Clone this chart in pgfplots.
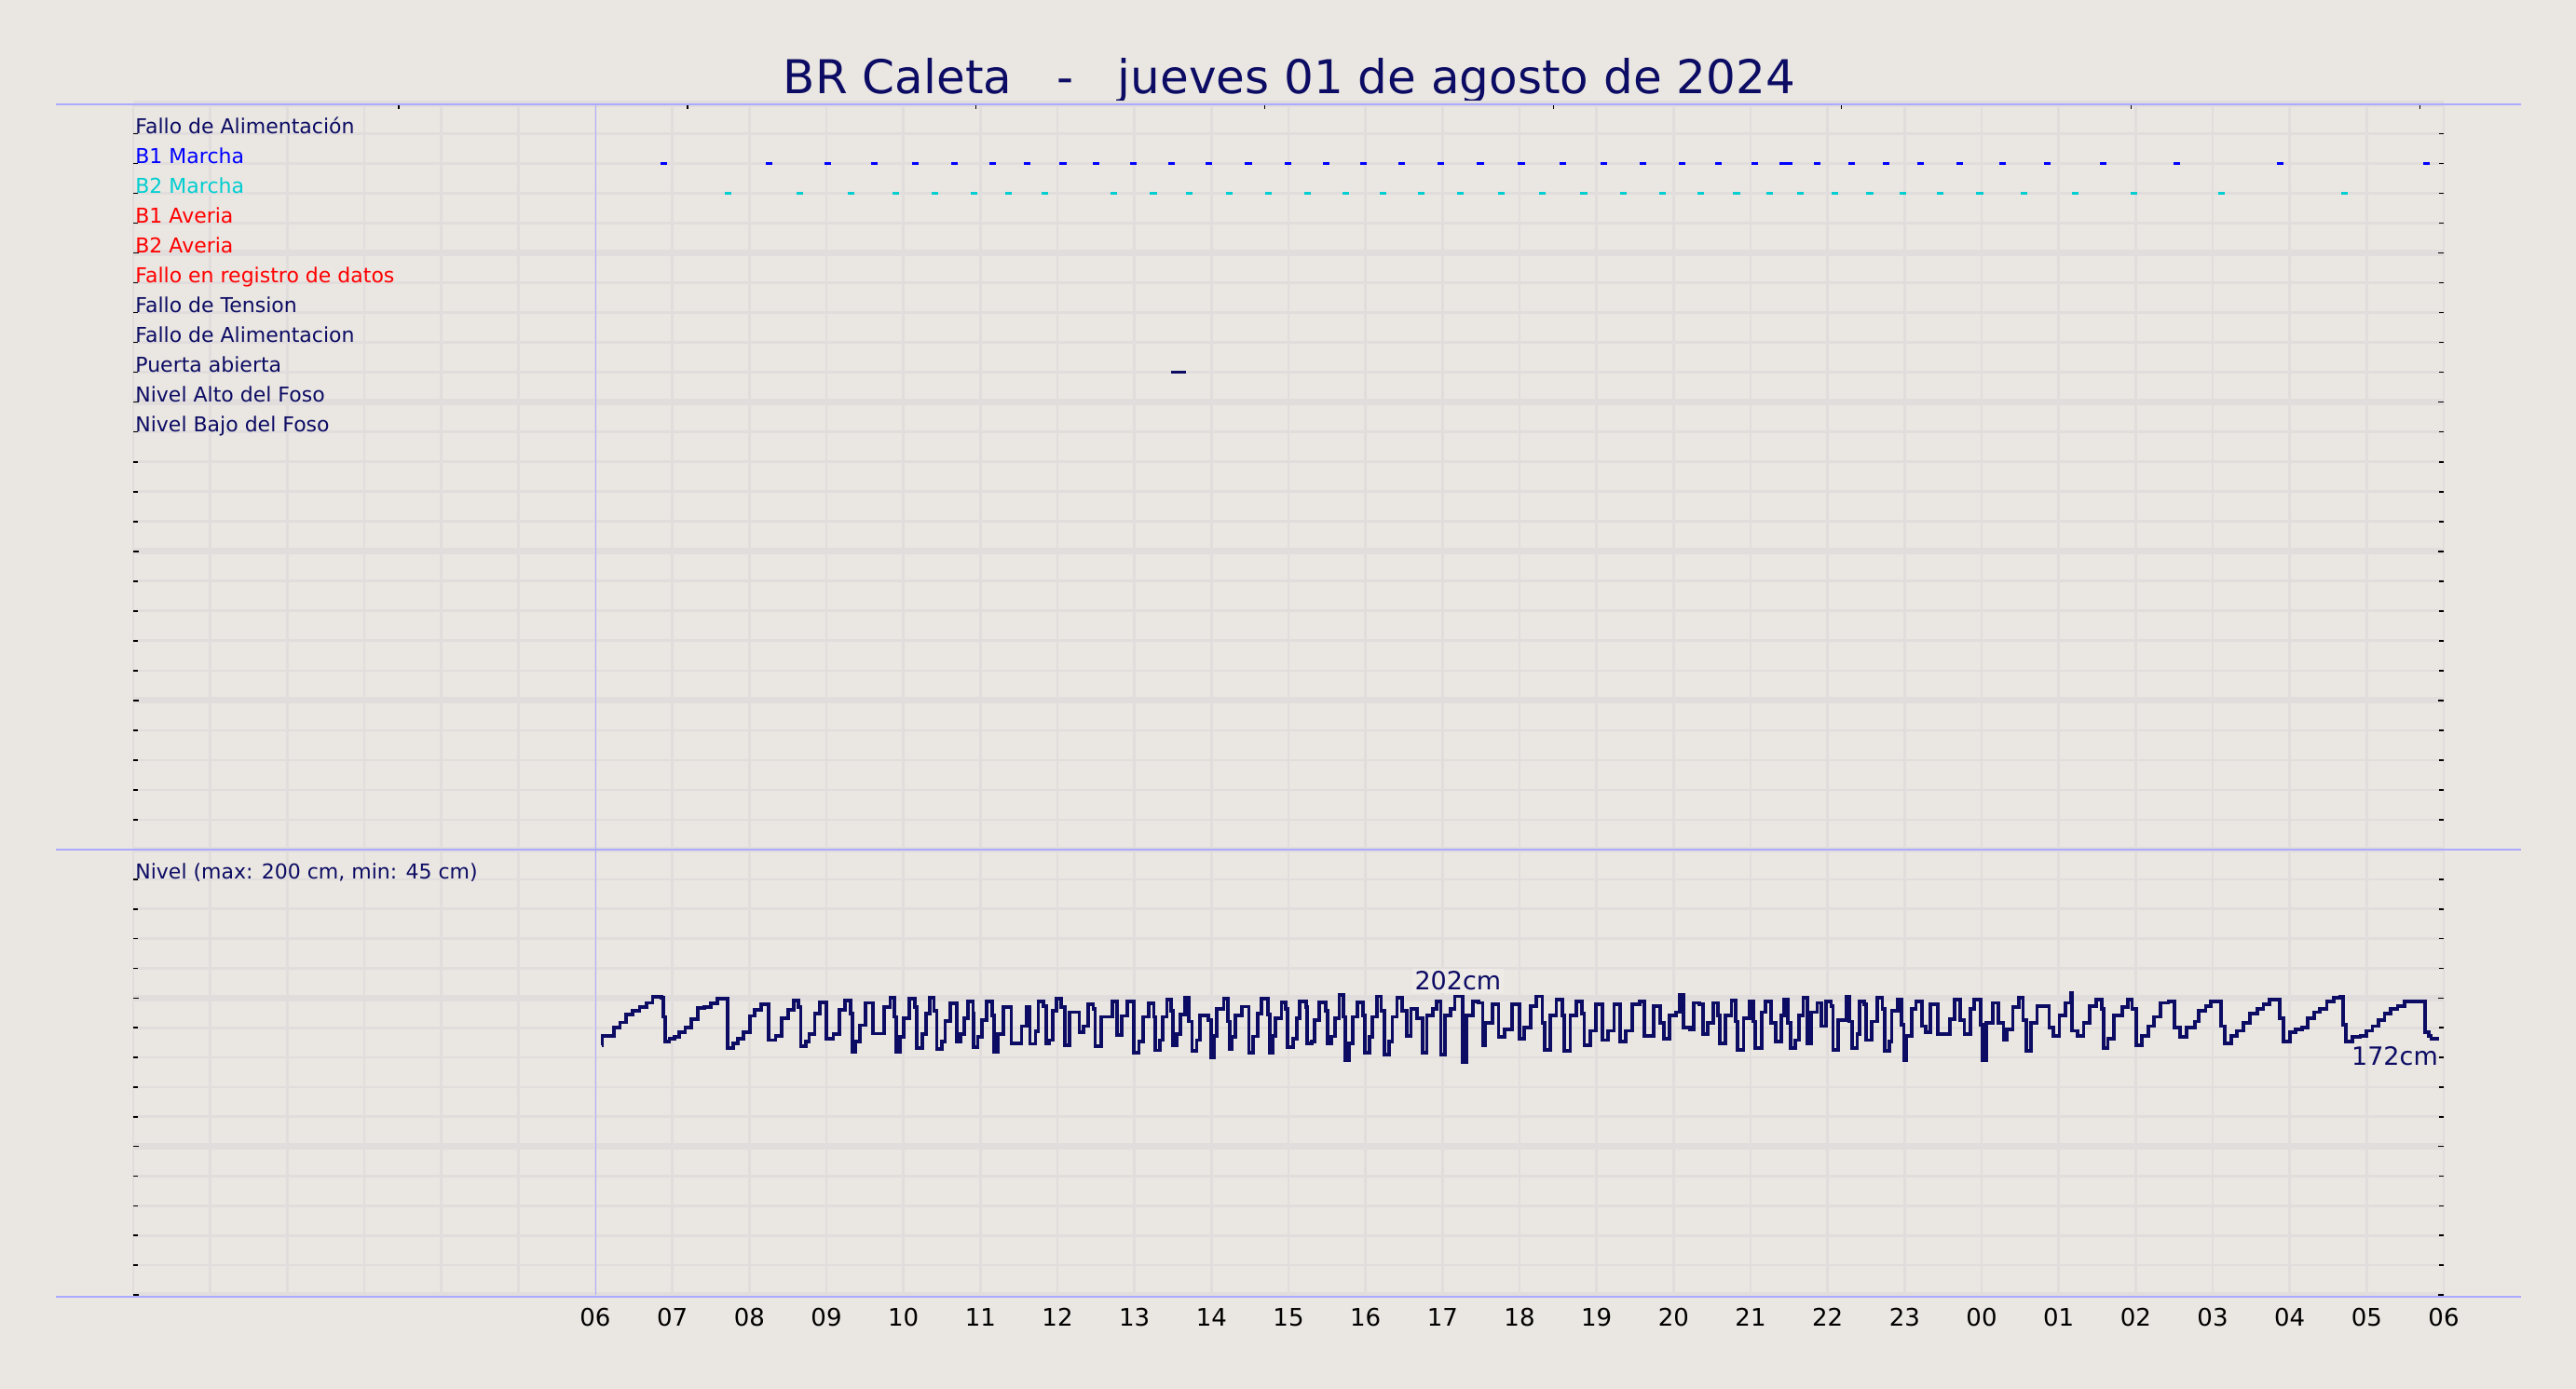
\documentclass[border=0pt]{standalone}
\usepackage{fontspec}
\setmainfont{DejaVu Sans}
\usepackage{pgfplots}
\usepackage{pgfplotstable}
\pgfplotsset{compat=1.18}

\definecolor{bg}{RGB}{234,230,225}
\definecolor{gridc}{RGB}{225,221,220}
\definecolor{lav}{RGB}{170,170,255}
\definecolor{navyc}{RGB}{12,12,100}
\definecolor{b2c}{RGB}{0,206,209}
\definecolor{boxc}{RGB}{238,234,230}

% level of the pit (cm), step data, hour of day (24 = 00 next day)
\pgfplotstableread{
h v
6.080 168.4
6.090 174.3
6.238 180.0
6.320 183.6
6.403 188.8
6.486 191.6
6.574 194.1
6.661 196.8
6.744 201.0
6.858 200.0
6.884 187.4
6.910 170.5
6.961 172.6
7.028 173.7
7.090 176.8
7.168 180.0
7.245 185.7
7.333 193.1
7.416 193.7
7.504 196.2
7.587 199.4
7.721 166.3
7.788 169.5
7.855 172.6
7.928 176.8
8.005 188.0
8.072 192.0
8.155 195.8
8.253 171.6
8.341 174.7
8.419 186.3
8.501 192.0
8.579 198.5
8.641 193.7
8.667 167.4
8.734 170.5
8.775 175.8
8.848 189.5
8.915 197.3
9.003 172.6
9.090 175.8
9.173 192.0
9.245 198.5
9.313 189.5
9.338 163.6
9.375 170.5
9.432 181.7
9.504 196.8
9.602 176.0
9.752 193.7
9.829 200.0
9.881 187.4
9.907 163.6
9.959 173.9
10.000 186.3
10.072 199.4
10.150 193.7
10.171 166.3
10.243 175.8
10.295 189.5
10.346 200.0
10.398 191.6
10.434 165.7
10.501 170.5
10.543 184.6
10.605 196.4
10.698 170.5
10.744 175.8
10.786 186.3
10.837 197.9
10.904 189.5
10.915 166.9
10.966 173.7
11.018 185.3
11.085 197.9
11.152 188.4
11.173 163.6
11.225 175.8
11.302 193.7
11.400 169.5
11.535 181.1
11.597 194.3
11.643 169.1
11.716 177.5
11.752 197.9
11.814 194.7
11.855 169.5
11.897 171.6
11.938 191.6
11.990 199.6
12.052 193.7
12.093 168.4
12.155 190.5
12.284 176.8
12.336 181.1
12.403 195.8
12.465 192.6
12.491 167.4
12.568 187.4
12.713 197.9
12.775 175.0
12.837 188.0
12.910 197.9
12.992 163.2
13.059 170.5
13.111 187.4
13.189 196.4
13.251 187.4
13.266 164.8
13.333 171.6
13.369 187.4
13.421 198.9
13.473 191.6
13.499 168.4
13.550 175.8
13.592 188.8
13.654 200.0
13.705 184.2
13.747 164.2
13.809 171.6
13.850 188.4
13.964 185.3
13.995 160.0
14.031 174.7
14.072 192.6
14.160 199.4
14.212 184.2
14.238 165.7
14.264 173.7
14.315 188.4
14.393 194.3
14.486 163.2
14.538 174.1
14.600 189.5
14.652 199.4
14.729 188.8
14.755 163.2
14.796 174.7
14.833 186.3
14.910 197.3
14.962 192.6
14.988 166.9
15.065 172.6
15.107 186.3
15.143 197.9
15.231 193.7
15.246 169.5
15.298 170.5
15.334 185.3
15.401 197.3
15.479 191.6
15.505 169.5
15.556 174.1
15.608 186.3
15.660 202.1
15.712 187.4
15.737 157.9
15.789 169.5
15.830 187.4
15.893 197.3
15.970 188.4
15.996 163.2
16.048 173.7
16.089 187.4
16.151 201.1
16.203 191.6
16.244 162.1
16.306 170.5
16.348 187.4
16.410 200.0
16.472 191.6
16.539 174.7
16.591 192.6
16.668 186.3
16.746 163.2
16.797 188.4
16.875 192.6
16.927 197.9
16.978 162.1
17.030 188.4
17.108 192.6
17.159 201.1
17.263 156.8
17.314 188.4
17.392 197.9
17.470 196.8
17.521 168.4
17.557 183.2
17.650 195.8
17.728 173.7
17.806 178.9
17.899 195.8
18.002 172.6
18.064 180.0
18.142 194.7
18.219 201.1
18.297 183.2
18.323 165.3
18.400 188.4
18.478 198.9
18.556 188.4
18.581 164.2
18.659 188.4
18.736 197.9
18.814 189.5
18.840 168.4
18.917 177.9
18.995 195.8
19.073 171.6
19.150 177.9
19.228 195.8
19.305 170.5
19.383 177.9
19.460 195.8
19.564 197.9
19.616 174.7
19.745 194.7
19.822 183.2
19.874 172.6
19.951 188.4
20.029 190.5
20.081 202.1
20.133 180.0
20.210 178.9
20.262 196.8
20.339 195.8
20.381 175.8
20.443 183.2
20.520 196.8
20.572 188.4
20.598 169.5
20.675 188.4
20.753 198.5
20.805 184.2
20.831 165.3
20.908 186.3
20.986 197.9
21.037 184.2
21.063 166.3
21.141 190.5
21.192 197.9
21.270 183.2
21.322 170.5
21.399 188.4
21.435 198.9
21.487 183.2
21.518 166.3
21.580 171.6
21.632 188.4
21.684 200.0
21.736 169.5
21.787 190.5
21.865 196.8
21.917 181.1
21.976 197.9
22.045 194.7
22.071 165.3
22.134 185.3
22.239 201.1
22.281 184.2
22.323 166.3
22.386 175.8
22.412 197.9
22.480 195.8
22.501 171.6
22.569 184.2
22.648 200.0
22.711 192.6
22.742 164.2
22.805 170.5
22.832 191.6
22.910 198.9
22.963 182.1
22.989 157.9
23.026 174.7
23.094 192.6
23.146 197.9
23.225 181.1
23.278 176.8
23.330 195.8
23.435 175.8
23.592 186.0
23.645 198.9
23.724 185.3
23.776 175.8
23.855 192.6
23.907 198.9
23.986 182.1
24.012 157.9
24.064 183.2
24.143 196.8
24.222 183.2
24.285 171.6
24.327 178.9
24.406 193.7
24.484 200.0
24.537 185.3
24.579 164.2
24.642 183.2
24.720 194.7
24.878 180.0
24.930 174.7
25.009 188.4
25.088 196.8
25.156 203.2
25.177 177.9
25.245 174.7
25.324 183.2
25.402 194.7
25.492 198.9
25.560 192.6
25.586 166.3
25.639 172.6
25.717 188.4
25.822 193.7
25.901 198.9
25.953 192.6
26.006 168.4
26.084 174.7
26.163 181.1
26.242 187.4
26.321 196.8
26.425 197.9
26.504 180.0
26.572 173.7
26.662 180.0
26.766 184.2
26.819 191.6
26.908 194.7
26.976 197.9
27.108 181.1
27.160 169.5
27.239 174.7
27.318 177.9
27.396 183.2
27.485 189.5
27.580 192.6
27.658 195.8
27.737 198.9
27.868 186.3
27.921 170.5
27.999 176.8
28.078 178.9
28.157 180.0
28.235 186.3
28.314 190.5
28.393 192.6
28.482 197.9
28.577 200.0
28.655 201.1
28.692 182.1
28.734 170.5
28.813 173.7
28.918 174.7
28.997 177.9
29.075 181.1
29.154 185.3
29.232 189.5
29.311 192.6
29.400 194.7
29.495 197.9
29.757 176.8
29.810 174.7
29.836 172.6
29.940 172.6
}\nivel

\pgfplotsset{
  panel/.style={
    scale only axis, width=1240pt, xmin=0, xmax=30,
    axis line style={draw=none},
    minor xtick={0,...,30},
    xmajorgrids=false, xminorgrids=true, ymajorgrids=true, yminorgrids=true,
    major grid style={gridc, line width=3.4pt},
    minor grid style={gridc, line width=1.35pt},
    tick align=inside,
    major tick length=3pt, minor tick length=2.5pt,
    tick style={black, line width=0.8pt},
    minor x tick style={draw=none},
    yticklabels={},
  },
  evt/.style={only marks, mark=-, mark size=1.8pt, mark options={line width=1.5pt, solid}},
}
\tikzset{lbl/.style={anchor=base west, inner sep=0pt, xshift=1pt, font=\fontsize{11}{13}\selectfont}}

\begin{document}
\begin{tikzpicture}
\fill[bg] (0,0) rectangle (1382.5pt,745.5pt);

\node[anchor=base, navyc, font=\fontsize{25}{30}\selectfont] at (692pt,695.25pt)
  {BR Caleta\ \ \ -\ \ \ jueves 01 de agosto de 2024};

% events panel
\begin{axis}[panel, at={(71.5pt,289.5pt)}, anchor=south west, height=400.25pt,
  ymin=0, ymax=25, ytick={0,5,...,25}, minor ytick={0,...,25},
  xtick={3.444,7.196,10.94,14.69,18.44,22.18,25.94,29.69}, xtick pos=right,
  xticklabels={}]
\node[lbl, navyc] at (axis cs:0,24) {Fallo de Alimentación};
\node[lbl, blue] at (axis cs:0,23) {B1 Marcha};
\node[lbl, b2c] at (axis cs:0,22) {B2 Marcha};
\node[lbl, red] at (axis cs:0,21) {B1 Averia};
\node[lbl, red] at (axis cs:0,20) {B2 Averia};
\node[lbl, red] at (axis cs:0,19) {Fallo en registro de datos};
\node[lbl, navyc] at (axis cs:0,18) {Fallo de Tension};
\node[lbl, navyc] at (axis cs:0,17) {Fallo de Alimentacion};
\node[lbl, navyc] at (axis cs:0,16) {Puerta abierta};
\node[lbl, navyc] at (axis cs:0,15) {Nivel Alto del Foso};
\node[lbl, navyc] at (axis cs:0,14) {Nivel Bajo del Foso};
\addplot[evt, blue] coordinates {
 (6.89,23) (8.254,23) (9.022,23) (9.619,23) (10.153,23) (10.665,23) (11.155,23)
 (11.603,23) (12.073,23) (12.50,23) (12.99,23) (13.48,23) (13.97,23) (14.48,23)
 (14.995,23) (15.486,23) (15.976,23) (16.467,23) (16.979,23) (17.491,23) (18.024,23)
 (18.558,23) (19.091,23) (19.603,23) (20.115,23) (20.584,23) (21.054,23) (21.42,23)
 (21.50,23) (21.864,23) (22.312,23) (22.760,23) (23.208,23) (23.720,23) (24.275,23)
 (24.851,23) (25.576,23) (26.536,23) (27.880,23) (29.78,23)};
\addplot[evt, b2c] coordinates {
 (7.721,22) (8.659,22) (9.320,22) (9.897,22) (10.409,22) (10.921,22) (11.369,22)
 (11.838,22) (12.734,22) (13.246,22) (13.715,22) (14.227,22) (14.739,22) (15.251,22)
 (15.742,22) (16.232,22) (16.723,22) (17.235,22) (17.768,22) (18.301,22) (18.835,22)
 (19.347,22) (19.859,22) (20.350,22) (20.819,22) (21.246,22) (21.651,22) (22.099,22)
 (22.547,22) (22.974,22) (23.464,22) (23.976,22) (24.552,22) (25.213,22) (25.981,22)
 (27.112,22) (28.712,22)};
\addplot[navyc, line width=1.5pt] coordinates {(13.48,16) (13.67,16)};
\end{axis}

% level panel
\begin{axis}[panel, at={(71.5pt,50.5pt)}, anchor=south west, height=239pt,
  ymin=0, ymax=300, ytick={0,100,200,300}, minor ytick={0,20,...,300},
  xtick={6,...,30},
  xticklabels={06,07,08,09,10,11,12,13,14,15,16,17,18,19,20,21,22,23,00,01,02,03,04,05,06},
  xtick style={draw=none},
  xticklabel style={font=\fontsize{13}{15}\selectfont, anchor=base, yshift=-17pt}]
\node[lbl, navyc] at (axis cs:0,280) {Nivel (max: 200 cm, min: 45 cm)};
\node[anchor=base, navyc, fill=boxc, inner sep=1.5pt, font=\fontsize{13.5}{16}\selectfont]
  at (axis cs:17.20,205.4) {202cm};
\addplot[const plot, navyc, line width=1.9pt, no marks] table[x=h, y=v] {\nivel};
\node[anchor=base east, navyc, inner sep=0pt, font=\fontsize{13.5}{16}\selectfont]
  at (axis cs:29.93,154.4) {172cm};
\end{axis}

\draw[lav, line width=0.65pt] (30pt,689.5pt) -- (1353pt,689.5pt);
\draw[lav, line width=0.65pt] (30pt,289.5pt) -- (1353pt,289.5pt);
\draw[lav, line width=0.65pt] (30pt,49.5pt) -- (1353pt,49.5pt);
\draw[lav, line width=0.5pt] (319.5pt,50.5pt) -- (319.5pt,689.5pt);

\pgfresetboundingbox
\useasboundingbox (0,0) rectangle (1382.5pt,745.5pt);
\end{tikzpicture}
\end{document}
